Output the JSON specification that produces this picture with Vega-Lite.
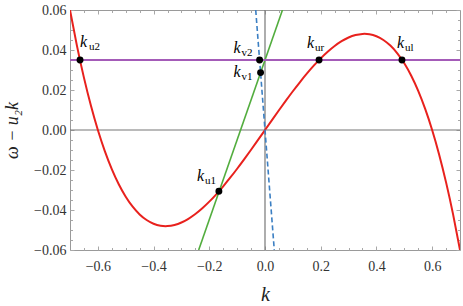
{
  "$schema": "https://vega.github.io/schema/vega-lite/v6.json",
  "width": 390,
  "height": 240,
  "autosize": {"type": "none"},
  "padding": {"left": 70, "top": 10, "right": 3, "bottom": 56},
  "config": {
    "view": {"stroke": "#9a9a9a", "strokeWidth": 1},
    "axis": {"grid": false, "domain": false, "tickColor": "#a8a8a8", "labelFont": "Liberation Serif", "labelFontSize": 14, "labelColor": "#333333", "titleFont": "Liberation Serif", "titleColor": "#222222", "titleFontWeight": "normal"}
  },
  "datasets": {
    "curve": [
      {"k": -0.7, "v": 0.06}, {"k": -0.675, "v": 0.04207}, {"k": -0.65, "v": 0.02619}, {"k": -0.625, "v": 0.01222},
      {"k": -0.6, "v": 0.0}, {"k": -0.575, "v": -0.01052}, {"k": -0.55, "v": -0.01952}, {"k": -0.525, "v": -0.02709},
      {"k": -0.5, "v": -0.03333}, {"k": -0.475, "v": -0.03834}, {"k": -0.45, "v": -0.04221}, {"k": -0.425, "v": -0.04502},
      {"k": -0.4, "v": -0.0469}, {"k": -0.375, "v": -0.04788}, {"k": -0.35, "v": -0.04805}, {"k": -0.325, "v": -0.04748},
      {"k": -0.3, "v": -0.04624}, {"k": -0.275, "v": -0.0444}, {"k": -0.25, "v": -0.04201}, {"k": -0.225, "v": -0.03914},
      {"k": -0.2, "v": -0.03583}, {"k": -0.175, "v": -0.03215}, {"k": -0.15, "v": -0.02815}, {"k": -0.125, "v": -0.02387},
      {"k": -0.1, "v": -0.01937}, {"k": -0.075, "v": -0.01468}, {"k": -0.05, "v": -0.00986}, {"k": -0.025, "v": -0.00495},
      {"k": 0.0, "v": 0.0},
      {"k": 0.025, "v": 0.00495}, {"k": 0.05, "v": 0.00986}, {"k": 0.075, "v": 0.01468}, {"k": 0.1, "v": 0.01937},
      {"k": 0.125, "v": 0.02387}, {"k": 0.15, "v": 0.02815}, {"k": 0.175, "v": 0.03215}, {"k": 0.2, "v": 0.03583},
      {"k": 0.225, "v": 0.03914}, {"k": 0.25, "v": 0.04201}, {"k": 0.275, "v": 0.0444}, {"k": 0.3, "v": 0.04624},
      {"k": 0.325, "v": 0.04748}, {"k": 0.35, "v": 0.04805}, {"k": 0.375, "v": 0.04788}, {"k": 0.4, "v": 0.0469},
      {"k": 0.425, "v": 0.04502}, {"k": 0.45, "v": 0.04221}, {"k": 0.475, "v": 0.03834}, {"k": 0.5, "v": 0.03333},
      {"k": 0.525, "v": 0.02709}, {"k": 0.55, "v": 0.01952}, {"k": 0.575, "v": 0.01052}, {"k": 0.6, "v": 0.0},
      {"k": 0.625, "v": -0.01222}, {"k": 0.65, "v": -0.02619}, {"k": 0.675, "v": -0.04207}, {"k": 0.7, "v": -0.06}
    ],
    "green": [{"k": -0.2381, "v": -0.06}, {"k": 0.0627, "v": 0.06}],
    "blue": [{"k": -0.0333, "v": 0.06}, {"k": 0.0333, "v": -0.06}],
    "purple": [{"k": -0.7, "v": 0.035}, {"k": 0.7, "v": 0.035}],
    "zero": [{"z": 0}],
    "pts": [
      {"name": "ku2", "k": -0.664, "v": 0.035, "sub": "u2"},
      {"name": "kv2", "k": -0.0194, "v": 0.035, "sub": "v2"},
      {"name": "kv1", "k": -0.0159, "v": 0.0287, "sub": "v1"},
      {"name": "kur", "k": 0.194, "v": 0.035, "sub": "ur"},
      {"name": "kul", "k": 0.4917, "v": 0.035, "sub": "ul"},
      {"name": "ku1", "k": -0.1655, "v": -0.0306, "sub": "u1"}
    ]
  },
  "resolve": {"axis": {"x": "independent", "y": "independent"}},
  "layer": [
    {
      "data": {"name": "zero"},
      "mark": {"type": "rule", "color": "#777777", "strokeWidth": 1.2},
      "encoding": {"y": {"field": "z", "type": "quantitative", "scale": {"domain": [-0.06, 0.06], "nice": false, "zero": false}, "axis": null}}
    },
    {
      "data": {"name": "zero"},
      "mark": {"type": "rule", "color": "#777777", "strokeWidth": 1.2},
      "encoding": {"x": {"field": "z", "type": "quantitative", "scale": {"domain": [-0.7, 0.7], "nice": false, "zero": false}, "axis": null}}
    },
    {
      "data": {"name": "curve"},
      "mark": {"type": "line", "color": "#e8211d", "strokeWidth": 2, "interpolate": "natural", "clip": true},
      "encoding": {
        "x": {"field": "k", "type": "quantitative", "scale": {"domain": [-0.7, 0.7], "nice": false, "zero": false},
          "axis": {"orient": "bottom", "values": [-0.6, -0.4, -0.2, 0, 0.2, 0.4, 0.6], "format": ".1f", "tickSize": -4, "labelPadding": 13, "title": "k", "titleFontStyle": "italic", "titleFontSize": 20, "titleX": 195, "titleY": 44, "titleBaseline": "middle", "titleAlign": "center"}},
        "y": {"field": "v", "type": "quantitative", "scale": {"domain": [-0.06, 0.06], "nice": false, "zero": false},
          "axis": {"orient": "left", "values": [-0.06, -0.04, -0.02, 0, 0.02, 0.04, 0.06], "format": ".2f", "tickSize": -4, "labelPadding": 8, "title": "ω − u₂k", "titleFontStyle": "italic", "titleFontSize": 18, "titleX": -58, "titleY": 120, "titleAngle": 270, "titleBaseline": "middle", "titleAlign": "center"}}
      }
    },
    {
      "data": {"name": "green"},
      "mark": {"type": "line", "color": "#52ad3e", "strokeWidth": 1.6, "clip": true},
      "encoding": {
        "x": {"field": "k", "type": "quantitative", "scale": {"domain": [-0.7, 0.7], "nice": false, "zero": false},
          "axis": {"orient": "top", "values": [-0.6, -0.4, -0.2, 0, 0.2, 0.4, 0.6], "labels": false, "tickSize": -4, "title": null}},
        "y": {"field": "v", "type": "quantitative", "scale": {"domain": [-0.06, 0.06], "nice": false, "zero": false},
          "axis": {"orient": "right", "values": [-0.06, -0.04, -0.02, 0, 0.02, 0.04, 0.06], "labels": false, "tickSize": -4, "title": null}}
      }
    },
    {
      "data": {"name": "blue"},
      "mark": {"type": "line", "color": "#3b7fc3", "strokeWidth": 1.6, "strokeDash": [5, 3], "clip": true},
      "encoding": {
        "x": {"field": "k", "type": "quantitative", "scale": {"domain": [-0.7, 0.7], "nice": false, "zero": false},
          "axis": {"orient": "bottom", "values": [-0.65, -0.55, -0.5, -0.45, -0.35, -0.3, -0.25, -0.15, -0.1, -0.05, 0.05, 0.1, 0.15, 0.25, 0.3, 0.35, 0.45, 0.5, 0.55, 0.65], "labels": false, "tickSize": -2.5, "title": null}},
        "y": {"field": "v", "type": "quantitative", "scale": {"domain": [-0.06, 0.06], "nice": false, "zero": false},
          "axis": {"orient": "left", "values": [-0.055, -0.05, -0.045, -0.035, -0.03, -0.025, -0.015, -0.01, -0.005, 0.005, 0.01, 0.015, 0.025, 0.03, 0.035, 0.045, 0.05, 0.055], "labels": false, "tickSize": -2.5, "title": null}}
      }
    },
    {
      "data": {"name": "purple"},
      "mark": {"type": "line", "color": "#a45bb8", "strokeWidth": 2, "clip": true},
      "encoding": {
        "x": {"field": "k", "type": "quantitative", "scale": {"domain": [-0.7, 0.7], "nice": false, "zero": false},
          "axis": {"orient": "top", "values": [-0.65, -0.55, -0.5, -0.45, -0.35, -0.3, -0.25, -0.15, -0.1, -0.05, 0.05, 0.1, 0.15, 0.25, 0.3, 0.35, 0.45, 0.5, 0.55, 0.65], "labels": false, "tickSize": -2.5, "title": null}},
        "y": {"field": "v", "type": "quantitative", "scale": {"domain": [-0.06, 0.06], "nice": false, "zero": false},
          "axis": {"orient": "right", "values": [-0.055, -0.05, -0.045, -0.035, -0.03, -0.025, -0.015, -0.01, -0.005, 0.005, 0.01, 0.015, 0.025, 0.03, 0.035, 0.045, 0.05, 0.055], "labels": false, "tickSize": -2.5, "title": null}}
      }
    },
    {
      "data": {"name": "pts"},
      "encoding": {
        "x": {"field": "k", "type": "quantitative", "scale": {"domain": [-0.7, 0.7], "nice": false, "zero": false}, "axis": null},
        "y": {"field": "v", "type": "quantitative", "scale": {"domain": [-0.06, 0.06], "nice": false, "zero": false}, "axis": null}
      },
      "layer": [
        {"mark": {"type": "point", "filled": true, "color": "#000000", "size": 48, "opacity": 1}},
        {"transform": [{"filter": "datum.name === 'ku2'"}], "layer": [
          {"mark": {"type": "text", "text": "k", "font": "Liberation Serif", "fontStyle": "italic", "fontSize": 16, "align": "left", "baseline": "alphabetic", "dx": 0, "dy": -13, "color": "#000"}},
          {"mark": {"type": "text", "font": "Liberation Serif", "fontSize": 11, "align": "left", "baseline": "alphabetic", "dx": 9, "dy": -10, "color": "#000"}, "encoding": {"text": {"field": "sub"}}}
        ]},
        {"transform": [{"filter": "datum.name === 'kv2'"}], "layer": [
          {"mark": {"type": "text", "text": "k", "font": "Liberation Serif", "fontStyle": "italic", "fontSize": 16, "align": "left", "baseline": "alphabetic", "dx": -26, "dy": -7, "color": "#000"}},
          {"mark": {"type": "text", "font": "Liberation Serif", "fontSize": 11, "align": "left", "baseline": "alphabetic", "dx": -18, "dy": -4, "color": "#000"}, "encoding": {"text": {"field": "sub"}}}
        ]},
        {"transform": [{"filter": "datum.name === 'kv1'"}], "layer": [
          {"mark": {"type": "text", "text": "k", "font": "Liberation Serif", "fontStyle": "italic", "fontSize": 16, "align": "left", "baseline": "alphabetic", "dx": -27, "dy": 4, "color": "#000"}},
          {"mark": {"type": "text", "font": "Liberation Serif", "fontSize": 11, "align": "left", "baseline": "alphabetic", "dx": -19, "dy": 7, "color": "#000"}, "encoding": {"text": {"field": "sub"}}}
        ]},
        {"transform": [{"filter": "datum.name === 'kur'"}], "layer": [
          {"mark": {"type": "text", "text": "k", "font": "Liberation Serif", "fontStyle": "italic", "fontSize": 16, "align": "left", "baseline": "alphabetic", "dx": -12, "dy": -12, "color": "#000"}},
          {"mark": {"type": "text", "font": "Liberation Serif", "fontSize": 11, "align": "left", "baseline": "alphabetic", "dx": -4, "dy": -9, "color": "#000"}, "encoding": {"text": {"field": "sub"}}}
        ]},
        {"transform": [{"filter": "datum.name === 'kul'"}], "layer": [
          {"mark": {"type": "text", "text": "k", "font": "Liberation Serif", "fontStyle": "italic", "fontSize": 16, "align": "left", "baseline": "alphabetic", "dx": -5, "dy": -12, "color": "#000"}},
          {"mark": {"type": "text", "font": "Liberation Serif", "fontSize": 11, "align": "left", "baseline": "alphabetic", "dx": 3, "dy": -9, "color": "#000"}, "encoding": {"text": {"field": "sub"}}}
        ]},
        {"transform": [{"filter": "datum.name === 'ku1'"}], "layer": [
          {"mark": {"type": "text", "text": "k", "font": "Liberation Serif", "fontStyle": "italic", "fontSize": 16, "align": "left", "baseline": "alphabetic", "dx": -22, "dy": -10, "color": "#000"}},
          {"mark": {"type": "text", "font": "Liberation Serif", "fontSize": 11, "align": "left", "baseline": "alphabetic", "dx": -14, "dy": -7, "color": "#000"}, "encoding": {"text": {"field": "sub"}}}
        ]}
      ]
    }
  ]
}
